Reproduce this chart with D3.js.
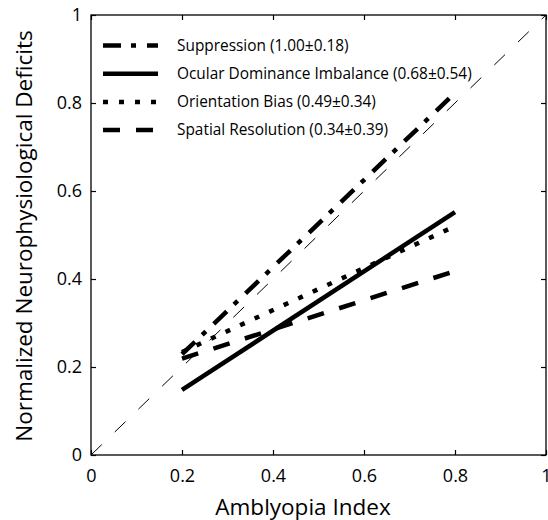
<!DOCTYPE html>
<html>
<head>
  <meta charset="utf-8">
  <style>
    body { margin: 0; background: #fff; }
    text { font-family: "Open Sans", sans-serif; fill: #000; }
  </style>
</head>
<body>
  <svg width="548" height="520"></svg>
  <script src="https://d3js.org/d3.v7.min.js"></script>
  <script>
    // values
    var ticks = [0, 0.2, 0.4, 0.6, 0.8, 1];
    var names = ["Suppression", "Ocular Dominance Imbalance", "Orientation Bias", "Spatial Resolution"];
    var stats = ["(1.00\u00b10.18)", "(0.68\u00b10.54)", "(0.49\u00b10.34)", "(0.34\u00b10.39)"];
    var suppression = [[0.2, 0.229], [0.8, 0.823]];
    var ocular = [[0.2, 0.148], [0.8, 0.552]];
    var orientation = [[0.2, 0.234], [0.8, 0.52]];
    var spatial = [[0.2, 0.219], [0.8, 0.418]];
    var identity = [[0, 0], [1, 1]];

    var dashes = ["18,10,5,11", null, "5,11", "17,16"];
    var series = [suppression, ocular, orientation, spatial];

    var svg = d3.select("svg"),
      x0 = 91, x1 = 546, y0 = 455, y1 = 15;

    var x = d3.scaleLinear().domain([0, 1]).range([x0, x1]);
    var y = d3.scaleLinear().domain([0, 1]).range([y0, y1]);

    var line = d3.line()
      .x(function (d) { return x(d[0]); })
      .y(function (d) { return y(d[1]); });

    // identity line
    svg.append("path")
      .attr("d", line(identity))
      .attr("fill", "none")
      .attr("stroke", "#000")
      .attr("stroke-width", 1)
      .attr("stroke-dasharray", "15,18");

    svg.append("g").selectAll("path")
      .data(series)
      .enter().append("path")
      .attr("d", line)
      .attr("fill", "none")
      .attr("stroke", "#000")
      .attr("stroke-width", 4.5)
      .attr("stroke-dasharray", function (d, i) { return dashes[i]; });

    // axes, ticks inward on all sides
    var fmt = function (d) { return d3.format("")(d); };
    svg.append("g")
      .attr("transform", "translate(0," + y0 + ")")
      .call(d3.axisBottom(x).tickValues(ticks).tickSizeInner(-5).tickSizeOuter(0).tickPadding(14).tickFormat(fmt));
    svg.append("g")
      .attr("transform", "translate(" + x0 + ",0)")
      .call(d3.axisLeft(y).tickValues(ticks).tickSizeInner(-5).tickSizeOuter(0).tickPadding(9).tickFormat(fmt));
    svg.append("g")
      .attr("transform", "translate(0," + y1 + ")")
      .call(d3.axisTop(x).tickValues(ticks).tickSizeInner(-5).tickSizeOuter(0).tickFormat(""));
    svg.append("g")
      .attr("transform", "translate(" + x1 + ",0)")
      .call(d3.axisRight(y).tickValues(ticks).tickSizeInner(-5).tickSizeOuter(0).tickFormat(""));

    svg.selectAll(".tick line").attr("stroke-width", 1.2);
    svg.selectAll(".domain").remove();
    svg.selectAll(".tick text").attr("font-size", 18).attr("font-family", "Open Sans");

    svg.append("rect")
      .attr("x", x0).attr("y", y1)
      .attr("width", x1 - x0).attr("height", y0 - y1)
      .attr("fill", "none")
      .attr("stroke", "#000")
      .attr("stroke-width", 1.3);

    // legend
    var legend = svg.append("g").selectAll("g")
      .data(names)
      .enter().append("g")
      .attr("transform", function (d, i) { return "translate(103," + (45.5 + i * 28.2) + ")"; });

    legend.append("line")
      .attr("x1", 0).attr("x2", 55)
      .attr("stroke", "#000")
      .attr("stroke-width", 4.5)
      .attr("stroke-dasharray", function (d, i) { return dashes[i]; });

    legend.append("text")
      .attr("x", 74)
      .attr("dy", "0.35em")
      .attr("font-size", 15.4)
      .text(function (d, i) { return d + " " + stats[i]; });

    // axis titles
    svg.append("text")
      .attr("x", 303)
      .attr("y", 515)
      .attr("text-anchor", "middle")
      .attr("font-size", 22.5)
      .text("Amblyopia Index");

    svg.append("text")
      .attr("transform", "translate(32,236)rotate(-90)")
      .attr("text-anchor", "middle")
      .attr("font-size", 22.5)
      .text("Normalized Neurophysiological Deficits");
  </script>
</body>
</html>
